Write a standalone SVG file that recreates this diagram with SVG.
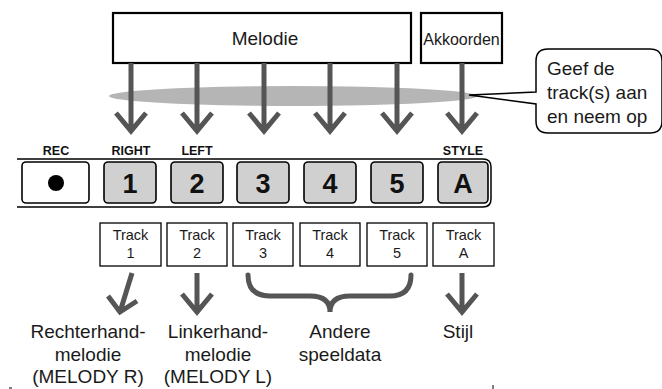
<svg xmlns="http://www.w3.org/2000/svg" width="662" height="389" viewBox="0 0 662 389">
<style>
.box{fill:#fff;stroke:#000;stroke-width:2.2}
.btn{fill:#d0d0d0;stroke:#000;stroke-width:1.6}
.rec{fill:#fff;stroke:#000;stroke-width:1.6}
.trk{fill:#fff;stroke:#000;stroke-width:1.3}
.arr{fill:none;stroke:#555;stroke-width:5}
.big{font-family:"Liberation Sans",Arial,sans-serif;font-size:19px;fill:#1a1a1a;text-anchor:middle}
.lbl{font-family:"Liberation Sans",Arial,sans-serif;font-size:12.5px;font-weight:bold;fill:#111;text-anchor:middle}
.num{font-family:"Liberation Sans",Arial,sans-serif;font-size:27px;font-weight:bold;fill:#111;text-anchor:middle}
.tt{font-family:"Liberation Sans",Arial,sans-serif;font-size:14.5px;fill:#1a1a1a;text-anchor:middle}
</style>
<rect width="662" height="389" fill="#fff"/>
<ellipse cx="293" cy="96" rx="184" ry="10" fill="#b5b5b5"/>
<g id="melodie"><rect class="box" x="113" y="13" width="298" height="50"/><text class="big" x="265" y="45">Melodie</text></g>
<g id="akkoorden"><rect class="box" x="421" y="13" width="81" height="50"/><text class="big" x="461.5" y="45" style="font-size:16px">Akkoorden</text></g>
<g id="callout"><path d="M548 49 H650 Q662 49 662 61 V121 Q662 133 650 133 H548 Q536 133 536 121 V104 L469 95 L536 92 V61 Q536 49 548 49 Z" fill="#fff" stroke="#000" stroke-width="1.5"/>
<text class="big" x="547" y="75" style="text-anchor:start">Geef de</text>
<text class="big" x="547" y="99" style="text-anchor:start">track(s) aan</text>
<text class="big" x="547" y="123" style="text-anchor:start">en neem op</text></g>
<g id="panel">
<path d="M17 159 H483 Q491 159 491 167 V199 Q491 207 483 207 H17" fill="none" stroke="#000" stroke-width="1.5"/>
<text class="lbl" x="56" y="155">REC</text><text class="lbl" x="131" y="155">RIGHT</text><text class="lbl" x="197" y="155">LEFT</text><text class="lbl" x="463" y="155">STYLE</text>
</g>
<g id="btn-rec"><rect class="rec" x="22" y="162" width="67" height="41" rx="4"/><circle cx="56" cy="183" r="8" fill="#000"/></g>
<g id="btn-1"><rect class="btn" x="104" y="162" width="52" height="41" rx="4"/><text class="num" x="130" y="193">1</text></g>
<g id="btn-2"><rect class="btn" x="171" y="162" width="52" height="41" rx="4"/><text class="num" x="197" y="193">2</text></g>
<g id="btn-3"><rect class="btn" x="237" y="162" width="52" height="41" rx="4"/><text class="num" x="263" y="193">3</text></g>
<g id="btn-4"><rect class="btn" x="304" y="162" width="52" height="41" rx="4"/><text class="num" x="330" y="193">4</text></g>
<g id="btn-5"><rect class="btn" x="371" y="162" width="52" height="41" rx="4"/><text class="num" x="397" y="193">5</text></g>
<g id="btn-a"><rect class="btn" x="438" y="162" width="50" height="41" rx="4"/><text class="num" x="463" y="193">A</text></g>
<g id="track-1"><rect class="trk" x="100" y="223" width="61" height="43"/><text class="tt" x="130.5" y="240">Track</text><text class="tt" x="130.5" y="258">1</text></g>
<g id="track-2"><rect class="trk" x="167" y="223" width="60" height="43"/><text class="tt" x="197" y="240">Track</text><text class="tt" x="197" y="258">2</text></g>
<g id="track-3"><rect class="trk" x="233" y="223" width="60" height="43"/><text class="tt" x="263" y="240">Track</text><text class="tt" x="263" y="258">3</text></g>
<g id="track-4"><rect class="trk" x="300" y="223" width="60" height="43"/><text class="tt" x="330" y="240">Track</text><text class="tt" x="330" y="258">4</text></g>
<g id="track-5"><rect class="trk" x="367" y="223" width="60" height="43"/><text class="tt" x="397" y="240">Track</text><text class="tt" x="397" y="258">5</text></g>
<g id="track-a"><rect class="trk" x="433" y="223" width="61" height="43"/><text class="tt" x="463.5" y="240">Track</text><text class="tt" x="463.5" y="258">A</text></g>
<g id="labels">
<text class="big" x="88" y="338">Rechterhand-</text><text class="big" x="88" y="361">melodie</text><text class="big" x="88" y="383">(MELODY R)</text>
<text class="big" x="218" y="338">Linkerhand-</text><text class="big" x="218" y="361">melodie</text><text class="big" x="218" y="383">(MELODY L)</text>
<text class="big" x="340" y="338">Andere</text><text class="big" x="340" y="361">speeldata</text>
<text class="big" x="458" y="338">Stijl</text>
</g>
<g id="connectors">
<path class="arr" d="M131 63 V131 M116 113 L131 131 L146 113"/>
<path class="arr" d="M197 63 V131 M182 113 L197 131 L212 113"/>
<path class="arr" d="M264 63 V131 M249 113 L264 131 L279 113"/>
<path class="arr" d="M330 63 V131 M315 113 L330 131 L345 113"/>
<path class="arr" d="M397 63 V131 M382 113 L397 131 L412 113"/>
<path class="arr" d="M462 63 V131 M447 113 L462 131 L477 113"/>
<path class="arr" d="M132 273 L120 312 M108 296 L120 312 L137 301"/>
<path class="arr" d="M197 273 V312 M182 294 L197 312 L212 294"/>
<path class="arr" d="M462 273 V312 M447 294 L462 312 L477 294"/>
<path class="arr" stroke-linecap="round" d="M248 275 Q248 296 270 296 H310 Q330 296 330 312 Q330 296 350 296 H390 Q411 296 411 275"/>
</g>
<path d="M9 388 H12 M493 385 V389" stroke="#000" stroke-width="1"/>
</svg>
